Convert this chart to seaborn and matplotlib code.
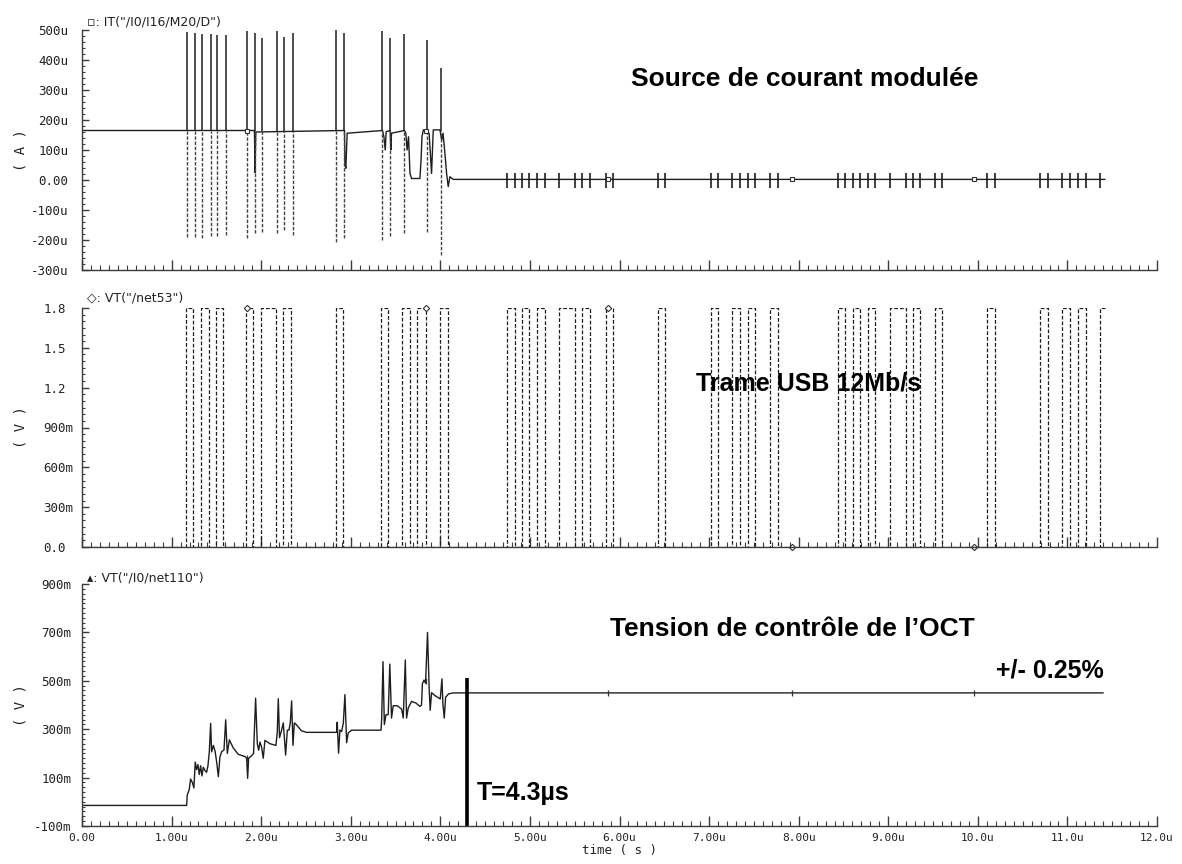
import matplotlib
matplotlib.use('Agg')
import matplotlib.pyplot as plt
import seaborn as sns
import pandas as pd
from matplotlib.ticker import FixedLocator, MultipleLocator

# ---- shared time axis (µs) ----
x_ticks = [0, 1, 2, 3, 4, 5, 6, 7, 8, 9, 10, 11, 12]
x_labels = ['0.00', '1.00u', '2.00u', '3.00u', '4.00u', '5.00u', '6.00u',
            '7.00u', '8.00u', '9.00u', '10.0u', '11.0u', '12.0u']
t_end = 11.42
marker_t = [1.84, 3.84, 5.87, 7.92, 9.96]

# ---- panel 1 : IT("/I0/I16/M20/D") in uA ----
i_ticks = [-300, -200, -100, 0, 100, 200, 300, 400, 500]
i_labels = ['-300u', '-200u', '-100u', '0.00', '100u', '200u', '300u', '400u', '500u']
i_idle = 165
i_t = [0.000, 1.925, 1.932, 1.940, 2.930, 2.935, 2.945, 2.960, 3.355, 3.370,
       3.385, 3.395, 3.440, 3.447, 3.455, 3.600, 3.615, 3.629, 3.645, 3.661,
       3.679, 3.772, 3.785, 3.795, 3.810, 3.875, 3.902, 3.921, 3.996, 4.015,
       4.030, 4.051, 4.070, 4.088, 4.107, 4.144, 11.42]
i_val = [165, 165, 25, 160, 165, 55, 39, 156, 165, 144,
         100, 161, 165, 100, 156, 165, 156, 100, 144, 22,
         5, 5, 67, 144, 167, 156, 22, 167, 167, 133,
         156, 89, 22, -22, 11, 2, 2]
spike_t = [1.168, 1.261, 1.343, 1.436, 1.510, 1.604, 1.838, 1.931, 2.009, 2.173,
           2.254, 2.351, 2.835, 2.927, 3.348, 3.438, 3.594, 3.854, 4.010]
spike_hi = [495, 489, 486, 486, 483, 483, 497, 491, 472, 498,
            478, 491, 500, 489, 498, 472, 487, 467, 372]
spike_lo = [-189, -191, -192, -187, -186, -183, -194, -178, -172, -178,
            -167, -183, -206, -194, -200, -187, -178, -172, -250]
small_spike = 25
i_marker = [165, 165, 2, 2, 2]

# ---- panel 2 : VT("/net53"), USB frame ----
usb_ticks = [0.0, 0.3, 0.6, 0.9, 1.2, 1.5, 1.8]
usb_labels = ['0.0', '300m', '600m', '900m', '1.2', '1.5', '1.8']
usb_high = 1.8
usb_rise = [1.161, 1.325, 1.496, 1.830, 1.998, 2.240, 2.835, 3.334, 3.570, 3.745,
            3.996, 4.747, 4.910, 5.082, 5.330, 5.583, 5.852, 6.429, 7.020, 7.261,
            7.430, 7.681, 8.441, 8.603, 8.770, 9.022, 9.274, 9.520, 10.107, 10.693,
            10.945, 11.118, 11.364]
usb_fall = [1.242, 1.414, 1.577, 1.912, 2.165, 2.336, 2.916, 3.419, 3.661, 3.836,
            4.088, 4.830, 4.995, 5.173, 5.505, 5.669, 5.931, 6.507, 7.099, 7.345,
            7.518, 7.765, 8.519, 8.686, 8.855, 9.195, 9.357, 9.604, 10.195, 10.782,
            11.034, 11.207]
usb_marker = [1.8, 1.8, 1.8, 0.0, 0.0]

# ---- panel 3 : VT("/I0/net110") in mV ----
vc_ticks = [-100, 100, 300, 500, 700, 900]
vc_labels = ['-100m', '100m', '300m', '500m', '700m', '900m']
vc_t = [0.00, 1.168, 1.175, 1.197, 1.212, 1.234, 1.249, 1.264, 1.279, 1.294,
        1.309, 1.324, 1.339, 1.354, 1.373, 1.391, 1.406, 1.421, 1.436, 1.447,
        1.466, 1.485, 1.503, 1.522, 1.540, 1.559, 1.585, 1.604, 1.622, 1.645,
        1.689, 1.745, 1.819, 1.838, 1.849, 1.860, 1.893, 1.915, 1.938, 1.957,
        1.972, 1.987, 2.005, 2.023, 2.042, 2.098, 2.165, 2.180, 2.191, 2.205,
        2.228, 2.247, 2.273, 2.292, 2.310, 2.325, 2.340, 2.355, 2.370, 2.392,
        2.448, 2.504, 2.842, 2.849, 2.864, 2.879, 2.898, 2.917, 2.935, 2.954,
        2.972, 3.010, 3.338, 3.345, 3.360, 3.375, 3.393, 3.418, 3.436, 3.455,
        3.474, 3.520, 3.568, 3.586, 3.609, 3.623, 3.642, 3.679, 3.728, 3.772,
        3.790, 3.800, 3.818, 3.835, 3.857, 3.876, 3.887, 3.902, 3.943, 3.999,
        4.018, 4.029, 4.044, 4.059, 4.092, 4.148, 11.40]
vc_val = [-15, -15, 29, 50, 94, 78, 57, 164, 133, 154,
          113, 149, 107, 143, 129, 122, 149, 206, 324, 206,
          233, 210, 165, 104, 186, 207, 214, 339, 200, 256,
          222, 196, 187, 180, 97, 180, 190, 200, 428, 240,
          213, 247, 225, 180, 254, 240, 233, 289, 426, 265,
          296, 326, 193, 296, 296, 326, 417, 233, 326, 319,
          294, 287, 287, 329, 201, 297, 290, 325, 443, 244,
          285, 296, 296, 340, 579, 319, 360, 360, 569, 346,
          397, 397, 383, 346, 586, 346, 388, 415, 408, 394,
          400, 489, 503, 490, 700, 461, 378, 451, 438, 425,
          508, 403, 346, 432, 446, 450, 450]
vc_marker = [180, 500, 450, 450, 450]
settle_t = 4.3
settle_top = 510

# ---------------------------------------------------------------
sns.set_style('ticks')
plt.rcParams['font.family'] = ['DejaVu Sans Mono', 'DejaVu Sans']
ann_font = 'Liberation Sans'

ink = '#1e1e1e'
axis_col = '#3c3c3c'

W, H = 1182, 864
fig = plt.figure(figsize=(W / 100, H / 100), dpi=100)


def box(top, bottom):
    return [82 / W, 1 - bottom / H, 1075 / W, (bottom - top) / H]


ax1 = fig.add_axes(box(30, 270))
ax2 = fig.add_axes(box(308, 547))
ax3 = fig.add_axes(box(584, 826))

# panel 1
df_i = pd.DataFrame({'t': i_t, 'i': i_val})
sns.lineplot(data=df_i, x='t', y='i', ax=ax1, color=ink, lw=1.0,
             estimator=None, sort=False)
ax1.vlines(spike_t, i_idle, spike_hi, color=ink, lw=1.1)
ax1.vlines(spike_t, spike_lo, i_idle, color='#444444', lw=1.0, linestyles=(0, (2.5, 1.2)))
late_edges = [e for e in usb_rise + usb_fall if e > 4.5]
ax1.vlines(late_edges, -small_spike, small_spike, color=ink, lw=1.2)
ax1.plot(marker_t, i_marker, ls='none', marker='s', ms=3.5, mfc='white', mec='#333333', mew=0.8)
ax1.set_ylim(-300, 500)

# panel 2
steps_t, steps_v = [0.0], [0.0]
for k, r in enumerate(usb_rise):
    steps_t.append(r)
    steps_v.append(usb_high)
    if k < len(usb_fall):
        steps_t.append(usb_fall[k])
        steps_v.append(0.0)
steps_t.append(t_end)
steps_v.append(steps_v[-1])
df_usb = pd.DataFrame({'t': steps_t, 'v': steps_v})
sns.lineplot(data=df_usb, x='t', y='v', ax=ax2, color=ink, lw=0.9,
             estimator=None, sort=False, drawstyle='steps-post',
             dashes=False, linestyle=(0, (3.0, 1.6)))
ax2.plot(marker_t, usb_marker, ls='none', marker='D', ms=3.2, mfc='white', mec='#333333',
         mew=0.8, clip_on=False)
ax2.set_ylim(0, 1.8)

# panel 3
df_vc = pd.DataFrame({'t': vc_t, 'v': vc_val})
sns.lineplot(data=df_vc, x='t', y='v', ax=ax3, color=ink, lw=1.0,
             estimator=None, sort=False)
ax3.plot(marker_t, vc_marker, ls='none', marker='|', ms=5, mec='#333333', mew=0.9)
ax3.vlines([settle_t], -100, settle_top, color='black', lw=2.6)
ax3.set_ylim(-100, 900)

# axes styling
panels = [
    (ax1, i_ticks, i_labels, 20, '( A )', '\u25ab: IT("/I0/I16/M20/D")', 1.035),
    (ax2, usb_ticks, usb_labels, 0.05, '( V )', '\u25c7: VT("/net53")', 1.042),
    (ax3, vc_ticks, vc_labels, 20, '( V )', '\u25b4: VT("/I0/net110")', 1.025),
]
for ax, yt, yl, yminor, ylab, trace, ty in panels:
    ax.set_xlim(0, 12)
    for s in ['top', 'right']:
        ax.spines[s].set_visible(False)
    for s in ['left', 'bottom']:
        ax.spines[s].set_color(axis_col)
        ax.spines[s].set_linewidth(1.0)
    ax.xaxis.set_major_locator(FixedLocator(x_ticks))
    ax.xaxis.set_minor_locator(MultipleLocator(0.1))
    ax.yaxis.set_major_locator(FixedLocator(yt))
    ax.yaxis.set_minor_locator(MultipleLocator(yminor))
    ax.set_yticklabels(yl)
    ax.tick_params(axis='both', which='major', direction='in', color=axis_col,
                   width=1.0, labelsize=9, labelcolor='#222222')
    ax.tick_params(axis='x', which='major', length=7, pad=5, labelsize=8)
    ax.tick_params(axis='x', which='minor', direction='in', length=3.5, color=axis_col, width=0.8)
    ax.tick_params(axis='y', which='major', length=5)
    ax.tick_params(axis='y', which='minor', direction='in', length=2.5, color=axis_col, width=0.8)
    ax.set_xlabel('')
    ax.set_ylabel(ylab, fontsize=10, color='#222222')
    ax.yaxis.set_label_coords(-54 / 1075, 0.5)
    ax.text(0.005, ty, trace, transform=ax.transAxes, fontsize=9, va='center',
            ha='left', color='#222222', family=['DejaVu Sans'])

ax1.tick_params(axis='x', labelbottom=False)
ax2.tick_params(axis='x', labelbottom=False)
ax1.tick_params(axis='y', pad=10)
ax3.tick_params(axis='y', pad=7.5)
ax2.tick_params(axis='y', pad=28)
for lbl in ax2.get_yticklabels():
    lbl.set_horizontalalignment('left')

ax3.set_xticklabels(x_labels)
ax3.set_xlabel('time ( s )', fontsize=9, color='#222222', labelpad=1)

# annotations
ax1.text(8.07, 337, 'Source de courant modulée', ha='center', va='center',
         fontsize=19, fontweight='bold', family=ann_font, color='black')
ax2.text(8.11, 1.228, 'Trame USB 12Mb/s', ha='center', va='center',
         fontsize=18, fontweight='bold', family=ann_font, color='black')
ax3.text(7.93, 715, 'Tension de contrôle de l\u2019OCT', ha='center', va='center',
         fontsize=19, fontweight='bold', family=ann_font, color='black')
ax3.text(11.41, 541, '+/- 0.25%', ha='right', va='center',
         fontsize=18, fontweight='bold', family=ann_font, color='black')
ax3.text(4.41, 37, 'T=4.3µs', ha='left', va='center',
         fontsize=18, fontweight='bold', family=ann_font, color='black')

fig.savefig('out.png', dpi=100)
plt.close(fig)
